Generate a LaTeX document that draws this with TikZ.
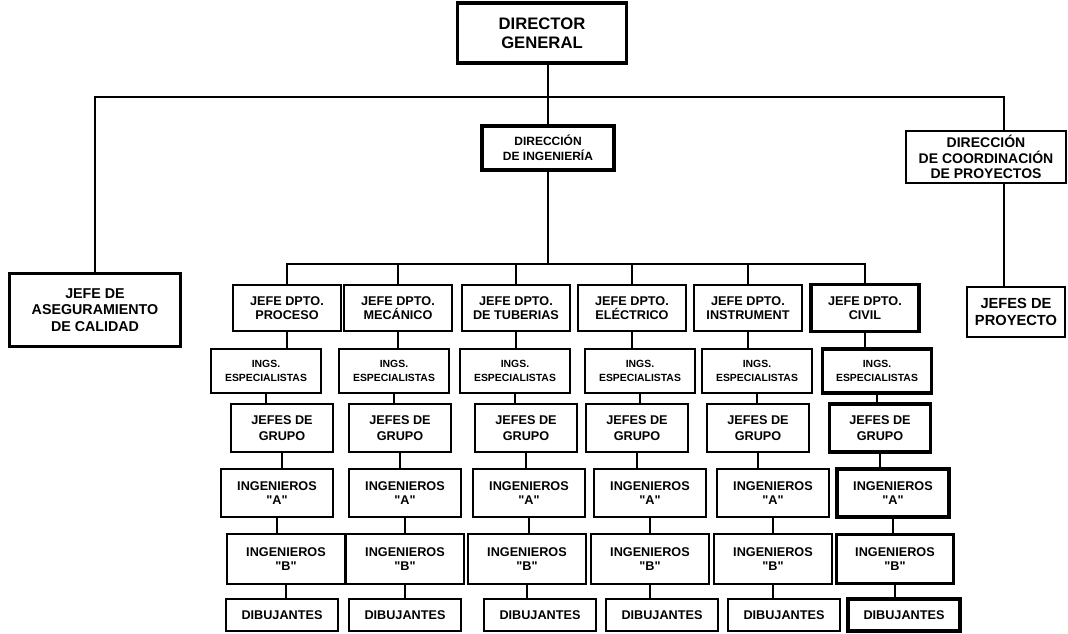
\documentclass[tikz,border=0pt]{standalone}
\usepackage{fontspec}
\setmainfont{Liberation Sans}

\begin{document}
\begin{tikzpicture}[x=0.75pt, y=-0.75pt,
  box/.style={draw, line width=1.4pt, inner sep=1pt, align=center, fill=white, font=\bfseries\fontsize{9.5}{11}\selectfont},
  heavy/.style={box, line width=2.6pt},
  link/.style={line width=1.2pt}
]
\useasboundingbox (0,0) rectangle (1068,633);

% direccion
\node[heavy, minimum width=127pt, minimum height=45pt, font=\bfseries\fontsize{12.5}{14.5}\selectfont] (dg) at (542,33) {DIRECTOR\\GENERAL};
\node[heavy, minimum width=99pt, minimum height=33pt, font=\bfseries\fontsize{9}{11}\selectfont] (di) at (548,148) {DIRECCIÓN\\DE INGENIERÍA};
\node[heavy, minimum width=128pt, minimum height=55pt, font=\bfseries\fontsize{10.7}{12.5}\selectfont] (jda) at (95,310) {JEFE DE\\ASEGURAMIENTO\\DE CALIDAD};
\node[box, minimum width=120pt, minimum height=39pt, font=\bfseries\fontsize{10.5}{11.5}\selectfont] (dcp) at (986,157) {DIRECCIÓN\\DE COORDINACIÓN\\DE PROYECTOS};
\node[box, minimum width=73pt, minimum height=38pt, font=\bfseries\fontsize{11}{13}\selectfont] (jp) at (1016,312) {JEFES DE\\PROYECTO};

\coordinate (tr) at (1004,97);
\coordinate (bus) at (548,264);
\draw[link] (di.north) -- (di.north |- dg.south);
\draw[link] (jda.north) |- (tr) -- (tr |- dcp.north);
\draw[link] (tr |- dcp.south) -- (tr |- jp.north);
\draw[link] (di) -- (bus);

% departamentos
\foreach \c/\xa/\xb/\xc/\xd/\xe/\xf/\dep/\lw in {
  1/287/266/282/277/286/282/{JEFE DPTO.\\PROCESO}/1.4pt,
  2/398/394/400/405/405/405/{JEFE DPTO.\\MECÁNICO}/1.4pt,
  3/516/515/526/529/527/540/{JEFE DPTO.\\DE TUBERIAS}/1.4pt,
  4/632/640/637/650/650/662/{JEFE DPTO.\\ELÉCTRICO}/1.4pt,
  5/748/757/758/773/773/784/{JEFE DPTO.\\INSTRUMENT}/1.4pt,
  6/865/877/880/893/895/904/{JEFE DPTO.\\CIVIL}/2.6pt}
{
  \node[box, line width=\lw, minimum width=81pt, minimum height=35pt] (dep\c) at (\xa,308) {\dep};
  \node[box, line width=\lw, minimum width=82pt, minimum height=33pt, font=\bfseries\fontsize{7.8}{10}\selectfont] (ing\c) at (\xb,371) {INGS.\\ESPECIALISTAS};
  \node[box, line width=\lw, minimum width=76pt, minimum height=36pt, font=\bfseries\fontsize{9.5}{12}\selectfont] (grp\c) at (\xc,428) {JEFES DE\\GRUPO};
  \node[box, line width=\lw, minimum width=84pt, minimum height=36pt] (ia\c) at (\xd,493) {INGENIEROS\\\textquotedbl A\textquotedbl};
  \node[box, line width=\lw, minimum width=88pt, minimum height=37pt] (ib\c) at (\xe,559) {INGENIEROS\\\textquotedbl B\textquotedbl};
  \node[box, line width=\lw, minimum width=84pt, minimum height=24pt] (dib\c) at (\xf,615) {DIBUJANTES};
  \draw[link] (dep\c.south) -- (dep\c.south |- ing\c.north);
  \draw[link] (ing\c.south) -- (ing\c.south |- grp\c.north);
  \draw[link] (grp\c.south) -- (grp\c.south |- ia\c.north);
  \draw[link] (ia\c.south) -- (ia\c.south |- ib\c.north);
  \draw[link] (ib\c.south) -- (ib\c.south |- dib\c.north);
}
\draw[link] (dep1.north) |- (bus) -| (dep6.north);
\foreach \c in {2,...,5}
  \draw[link] (dep\c.north) -- (dep\c.north |- bus);
\end{tikzpicture}
\end{document}
